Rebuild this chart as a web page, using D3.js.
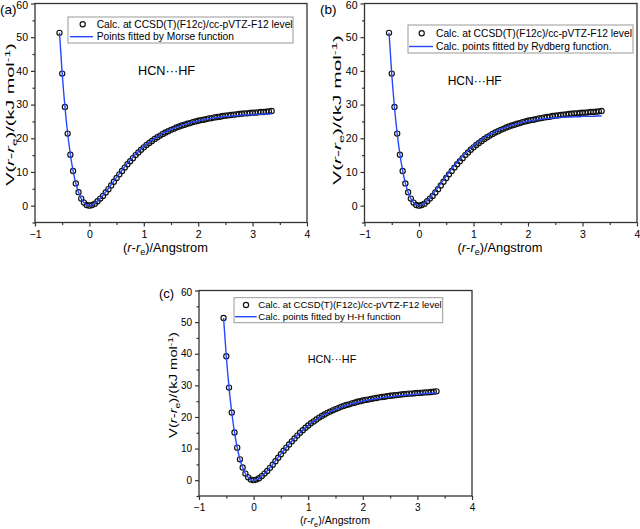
<!DOCTYPE html>
<html><head><meta charset="utf-8">
<script src="https://cdn.jsdelivr.net/npm/d3@7"></script>
<style>
body{margin:0;background:#fff}
svg{display:block;background:#fff}
text{font-family:"Liberation Sans",Arial,sans-serif;fill:#000}
</style>
</head><body>
<svg id="chart" width="640" height="529"></svg>
<script>
// ---------- data ----------
const rDisp = [-0.55,-0.5,-0.45,-0.4,-0.35,-0.3,-0.25,-0.2,-0.15,-0.1,-0.05,0,
  0.05,0.1,0.15,0.2,0.25,0.3,0.35,0.4,0.45,0.5,0.55,0.6,0.65,0.7,0.75,0.8,0.85,0.9,0.95,1.0,
  1.05,1.1,1.15,1.2,1.25,1.3,1.35,1.4,1.45,1.5,1.55,1.6,1.65,1.7,1.75,1.8,1.85,1.9,1.95,2.0,
  2.05,2.1,2.15,2.2,2.25,2.3,2.35,2.4,2.45,2.5,2.55,2.6,2.65,2.7,2.75,2.8,2.85,2.9,2.95,3.0,
  3.05,3.1,3.15,3.2,3.25,3.3,3.35];

const calcV = [51.3,39.2,29.3,21.4,15.1,10.3,6.6,4.0,2.1,0.9,0.2,0.0,
  0.2,0.6,1.3,2.1,2.9,3.9,4.9,6.0,7.1,8.2,9.3,10.3,11.3,12.3,13.2,14.1,15.0,15.8,16.6,17.3,
  18.0,18.6,19.2,19.8,20.3,20.8,21.3,21.7,22.1,22.5,22.8,23.2,23.5,23.8,24.0,24.3,24.5,24.8,25.0,25.2,
  25.4,25.5,25.7,25.9,26.0,26.2,26.3,26.4,26.6,26.7,26.8,26.9,27.0,27.1,27.2,27.3,27.4,27.4,27.5,27.6,
  27.6,27.7,27.8,27.8,27.9,28.0,28.1];

const morseV = [51.3,39.2,29.4,21.5,15.2,10.3,6.6,4.0,2.1,0.9,0.2,0.0,
  0.2,0.7,1.4,2.2,3.1,4.1,5.1,6.2,7.3,8.4,9.5,10.5,11.6,12.6,13.5,14.4,15.3,16.1,16.9,17.6,
  18.3,18.9,19.5,20.0,20.5,21.0,21.5,21.9,22.3,22.6,23.0,23.3,23.6,23.9,24.1,24.4,24.6,24.8,25.0,25.2,
  25.4,25.5,25.7,25.8,25.9,26.1,26.2,26.3,26.4,26.5,26.5,26.6,26.7,26.7,26.8,26.9,26.9,27.0,27.0,27.0,
  27.1,27.1,27.1,27.2,27.2,27.2,27.3];

const rydbergV = [51.3,39.0,29.2,21.4,15.2,10.4,6.7,4.0,2.1,0.9,0.2,0.0,
  0.2,0.7,1.5,2.4,3.4,4.4,5.5,6.6,7.7,8.8,9.9,10.9,11.9,12.9,13.8,14.7,15.6,16.4,17.1,17.8,
  18.5,19.1,19.7,20.2,20.7,21.2,21.6,22.0,22.4,22.7,23.0,23.3,23.6,23.9,24.1,24.3,24.5,24.7,24.9,25.1,
  25.2,25.3,25.5,25.6,25.7,25.8,25.9,25.9,26.0,26.1,26.1,26.2,26.2,26.3,26.3,26.3,26.4,26.4,26.4,26.5,
  26.5,26.5,26.5,26.5,26.6,26.6,26.6];

const hhV = [51.3,39.2,29.3,21.4,15.1,10.3,6.6,4.0,2.1,0.9,0.2,0.0,
  0.2,0.6,1.3,2.1,3.0,4.0,5.0,6.1,7.2,8.3,9.4,10.4,11.4,12.4,13.3,14.2,15.0,15.8,16.6,17.3,
  18.0,18.6,19.2,19.8,20.3,20.8,21.2,21.6,22.0,22.4,22.7,23.1,23.4,23.7,23.9,24.2,24.4,24.6,24.8,25.0,
  25.2,25.4,25.5,25.7,25.8,25.9,26.1,26.2,26.3,26.4,26.5,26.6,26.7,26.8,26.9,27.0,27.0,27.1,27.2,27.2,
  27.3,27.4,27.4,27.5,27.5,27.6,27.6];

const xTicks = [-1,0,1,2,3,4];
const xMinorTicks = [-0.5,0.5,1.5,2.5,3.5];
const yTicks = [0,10,20,30,40,50,60];
const yMinorTicks = [-5,5,15,25,35,45,55];
const xDomain = [-1,4];
const yDomain = [-5,60];

const calcLabel = "Calc. at CCSD(T)(F12c)/cc-pVTZ-F12 level";
const panelLetters = ["(a)","(b)","(c)"];
const fitLabels = ["Points fitted by Morse function","Calc. points fitted by Rydberg function.","Calc. points fitted by H-H function"];
const fitSeries = [morseV, rydbergV, hhV];
const noteText = "HCN\u00B7\u00B7\u00B7HF";

// ---------- layout ----------
const layouts = [
  {xr:[35,307], yr:[222.5,3.5], letter:[0,14,13.5], tickFs:10.5, xTickBase:237.5,
   legend:{x:68,y:17,w:225,h:26,sym:82.7,l0:70,l1:93,tx:96.7,r1:24.3,r2:36.7,fs:10.25},
   note:{x:138,y:75,fs:12.7}, xTitle:{cx:165.5,y:252,fs:12,len:85}, yTitle:{cx:10,cy:114.5,fs:11.5,len:143}},
  {xr:[364.5,637], yr:[222.5,3.5], letter:[320,14,13.5], tickFs:10.5, xTickBase:237.5,
   legend:{x:408,y:25,w:225,h:28,sym:421.7,l0:409,l1:433,tx:436,r1:33.3,r2:46.5,fs:10.25},
   note:{x:447.7,y:85,fs:12}, xTitle:{cx:500,y:252,fs:12,len:85}, yTitle:{cx:337,cy:110,fs:11.5,len:150}},
  {xr:[199,472], yr:[496,290.5], letter:[159,298,13], tickFs:10, xTickBase:510.7,
   legend:{x:234,y:297.7,w:208.7,h:25,sym:246,l0:235,l1:256.7,tx:258.3,r1:305,r2:316.7,fs:9.6},
   note:{x:307.7,y:363,fs:10.8}, xTitle:{cx:335,y:524,fs:10.8,len:70}, yTitle:{cx:173,cy:385,fs:11,len:106}}
];

const BLUE = "#2448ff";
const AX = "#333";
const svg = d3.select("#chart");

function addTitleParts(t){
  t.append("tspan").text("(");
  t.append("tspan").attr("font-style","italic").text("r");
  t.append("tspan").text("-");
  t.append("tspan").attr("font-style","italic").text("r");
  t.append("tspan").attr("font-size","70%").attr("dy",3).text("e");
  t.append("tspan").attr("dy",-3).text(")");
}

layouts.forEach((L,i)=>{
  const g = svg.append("g");
  const x = d3.scaleLinear().domain(xDomain).range(L.xr);
  const y = d3.scaleLinear().domain(yDomain).range(L.yr);

  // frame
  g.append("rect").attr("x",L.xr[0]).attr("y",L.yr[1])
    .attr("width",L.xr[1]-L.xr[0]).attr("height",L.yr[0]-L.yr[1])
    .attr("fill","none").attr("stroke",AX).attr("stroke-width",1.3);

  // axes
  const xa = g.append("g").attr("transform",`translate(0,${L.yr[0]})`)
    .call(d3.axisBottom(x).tickValues(xTicks).tickSize(4).tickPadding(3).tickFormat(d3.format("d")));
  const xm = g.append("g").attr("transform",`translate(0,${L.yr[0]})`)
    .call(d3.axisBottom(x).tickValues(xMinorTicks).tickSize(2.5).tickFormat(""));
  const ya = g.append("g").attr("transform",`translate(${L.xr[0]},0)`)
    .call(d3.axisLeft(y).tickValues(yTicks).tickSize(4).tickPadding(3).tickFormat(d3.format("d")));
  const ym = g.append("g").attr("transform",`translate(${L.xr[0]},0)`)
    .call(d3.axisLeft(y).tickValues(yMinorTicks).tickSize(2.5).tickFormat(""));
  [xa,xm,ya,ym].forEach(a=>{
    a.select(".domain").remove();
    a.selectAll("line").attr("stroke",AX).attr("stroke-width",1.2);
    a.selectAll("text").attr("font-size",L.tickFs).attr("font-family","'Liberation Sans',Arial,sans-serif").attr("fill","#111");
  });
  xa.selectAll("text").attr("dy",null).attr("y",L.xTickBase - L.yr[0]);
  // keep the top label inside the page
  ya.selectAll(".tick").filter(d=>d===60).select("text").attr("dy","0.5em");

  // data circles
  g.append("g").selectAll("circle").data(rDisp.map((r,k)=>[r,calcV[k]]))
    .join("circle").attr("cx",d=>x(d[0])).attr("cy",d=>y(d[1])).attr("r",2.6)
    .attr("fill","none").attr("stroke","#111").attr("stroke-width",1.15);

  // fitted line
  const fit = fitSeries[i];
  const line = d3.line().x(d=>x(d[0])).y(d=>y(d[1])).curve(d3.curveMonotoneX);
  g.append("path").datum(rDisp.map((r,k)=>[r,fit[k]]))
    .attr("d",line).attr("fill","none").attr("stroke",BLUE).attr("stroke-width",1.4);

  // legend
  const lg = L.legend;
  g.append("rect").attr("x",lg.x).attr("y",lg.y).attr("width",lg.w).attr("height",lg.h)
    .attr("fill","#fff").attr("stroke","#999").attr("stroke-width",1);
  g.append("circle").attr("cx",lg.sym).attr("cy",lg.r1).attr("r",2.6)
    .attr("fill","none").attr("stroke","#111").attr("stroke-width",1.15);
  g.append("text").attr("x",lg.tx).attr("y",lg.r1).attr("dy","0.35em")
    .attr("font-size",lg.fs).text(calcLabel);
  g.append("line").attr("x1",lg.l0).attr("x2",lg.l1).attr("y1",lg.r2).attr("y2",lg.r2)
    .attr("stroke",BLUE).attr("stroke-width",1.4);
  g.append("text").attr("x",lg.tx).attr("y",lg.r2).attr("dy","0.35em")
    .attr("font-size",lg.fs).text(fitLabels[i]);

  // annotation
  g.append("text").attr("x",L.note.x).attr("y",L.note.y).attr("font-size",L.note.fs).text(noteText);

  // panel letter
  g.append("text").attr("x",L.letter[0]).attr("y",L.letter[1]).attr("font-size",L.letter[2]).text(panelLetters[i]);

  // x title
  const xtG = g.append("g").attr("transform",`translate(${L.xTitle.cx},${L.xTitle.y})`);
  const xt = xtG.append("text").attr("font-size",L.xTitle.fs).attr("text-anchor","middle");
  addTitleParts(xt);
  xt.append("tspan").text("/Angstrom");
  const xw = xt.node().getBBox().width;
  xt.attr("transform",`scale(${L.xTitle.len/xw},1)`);

  // y title
  const ytG = g.append("g").attr("transform",`translate(${L.yTitle.cx},${L.yTitle.cy}) rotate(-90)`);
  const yt = ytG.append("text").attr("font-size",L.yTitle.fs).attr("text-anchor","middle").attr("dy","0.35em");
  yt.append("tspan").text("V");
  addTitleParts(yt);
  yt.append("tspan").text("/(kJ mol");
  yt.append("tspan").attr("font-size","70%").attr("dy",-4).text("-1");
  yt.append("tspan").attr("dy",4).text(")");
  const yw = yt.node().getBBox().width;
  yt.attr("transform",`scale(${L.yTitle.len/yw},1)`);
});
</script>
</body></html>
